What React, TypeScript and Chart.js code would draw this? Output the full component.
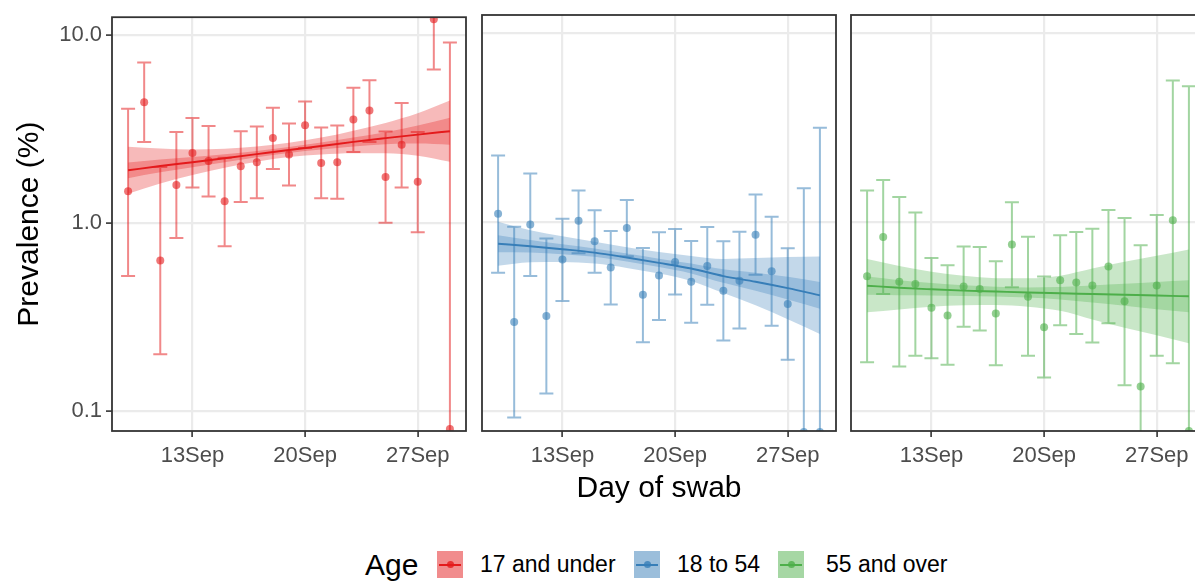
import React, { useEffect, useRef } from "react";
import { Chart, registerables } from "chart.js";
Chart.register(...registerables);

const FONT = "'Liberation Sans', Arial, sans-serif";

// ---- shared axes ----
const days = [9, 10, 11, 12, 13, 14, 15, 16, 17, 18, 19, 20, 21, 22, 23, 24, 25, 26, 27, 28, 29];
const bandDays = [9, 11, 13, 15, 17, 19, 21, 23, 25, 27, 29];
const xTickDays = [13, 20, 27];
const xTickLabels = ["13Sep", "20Sep", "27Sep"];
const yTickValues = [0.1, 1, 10];
const yTickLabels = ["0.1", "1.0", "10.0"];
const xMin = 8;
const xMax = 30;
const yMin = 0.078;
const yMax = 12.4;

// ---- 17 and under ----
const redPrev = [1.47, 4.38, 0.63, 1.59, 2.35, 2.13, 1.30, 2.00, 2.10, 2.82, 2.31, 3.30, 2.08, 2.10, 3.54, 3.95, 1.75, 2.60, 1.65, 12.1, 0.08];
const redLo = [0.52, 2.69, 0.20, 0.83, 1.54, 1.38, 0.75, 1.29, 1.35, 1.93, 1.58, 2.50, 1.35, 1.34, 2.38, 2.69, 1.00, 1.54, 0.89, 6.53, 0.01];
const redHi = [4.04, 7.11, 1.98, 3.04, 3.61, 3.27, 2.22, 3.07, 3.25, 4.09, 3.37, 4.42, 3.21, 3.29, 5.22, 5.73, 3.06, 4.33, 3.04, 22.0, 9.1];
const redFit = [1.901, 2.004, 2.099, 2.203, 2.317, 2.438, 2.559, 2.692, 2.818, 2.944, 3.069];
const redOuterHi = [2.535, 2.483, 2.455, 2.472, 2.541, 2.661, 2.838, 3.090, 3.396, 3.819, 4.467];
const redOuterLo = [1.426, 1.618, 1.795, 1.963, 2.113, 2.234, 2.307, 2.344, 2.339, 2.270, 2.109];
const redInnerHi = [2.094, 2.168, 2.234, 2.312, 2.410, 2.529, 2.673, 2.844, 3.034, 3.289, 3.622];
const redInnerLo = [1.726, 1.854, 1.972, 2.099, 2.228, 2.350, 2.449, 2.547, 2.618, 2.636, 2.600];

// ---- 18 to 54 ----
const bluePrev = [1.10, 0.294, 0.965, 0.317, 0.63, 1.01, 0.787, 0.571, 0.926, 0.41, 0.518, 0.612, 0.481, 0.583, 0.431, 0.487, 0.853, 0.546, 0.367, 0.077, 0.077];
const blueLo = [0.537, 0.092, 0.516, 0.123, 0.38, 0.68, 0.537, 0.364, 0.655, 0.23, 0.302, 0.411, 0.292, 0.363, 0.235, 0.272, 0.524, 0.281, 0.186, 0.005, 0.005];
const blueHi = [2.24, 0.94, 1.80, 0.813, 1.037, 1.46, 1.15, 0.893, 1.30, 0.726, 0.878, 0.915, 0.79, 0.937, 0.787, 0.885, 1.39, 1.06, 0.722, 1.50, 3.14];
const blueFit = [0.7638, 0.7413, 0.7145, 0.6855, 0.6457, 0.6053, 0.5649, 0.5152, 0.4808, 0.4446, 0.4074];
const blueOuterHi = [1.0, 0.9016, 0.8356, 0.7834, 0.7328, 0.6902, 0.6577, 0.6339, 0.6412, 0.6501, 0.6531];
const blueOuterLo = [0.5834, 0.6095, 0.6109, 0.5998, 0.5689, 0.5309, 0.4853, 0.4188, 0.3606, 0.3041, 0.2541];
const blueInnerHi = [0.8472, 0.7998, 0.7586, 0.7211, 0.6776, 0.6368, 0.5998, 0.5598, 0.537, 0.5105, 0.4797];
const blueInnerLo = [0.6887, 0.6871, 0.673, 0.6516, 0.6152, 0.5754, 0.5321, 0.4742, 0.4305, 0.3873, 0.3459];

// ---- 55 and over ----
const greenPrev = [0.514, 0.83, 0.48, 0.468, 0.35, 0.319, 0.453, 0.44, 0.326, 0.756, 0.401, 0.276, 0.489, 0.476, 0.459, 0.578, 0.379, 0.134, 0.459, 1.016, 0.078];
const greenLo = [0.18, 0.414, 0.171, 0.195, 0.189, 0.175, 0.278, 0.265, 0.174, 0.449, 0.195, 0.1495, 0.283, 0.2545, 0.229, 0.29, 0.136, 0.03, 0.195, 0.178, 0.01];
const greenHi = [1.46, 1.66, 1.35, 1.116, 0.642, 0.587, 0.738, 0.735, 0.617, 1.265, 0.833, 0.512, 0.846, 0.882, 0.918, 1.153, 1.046, 0.749, 1.085, 5.59, 5.2];
const greenFit = [0.4581, 0.4467, 0.4385, 0.4315, 0.4266, 0.4217, 0.4178, 0.414, 0.4102, 0.4064, 0.4027];
const greenOuterHi = [0.6339, 0.5821, 0.5433, 0.5164, 0.5023, 0.5012, 0.5176, 0.5649, 0.6138, 0.6592, 0.7129];
const greenOuterLo = [0.3311, 0.3428, 0.354, 0.3606, 0.3622, 0.3548, 0.3373, 0.3034, 0.2742, 0.2506, 0.2275];
const greenInnerHi = [0.5117, 0.4898, 0.4732, 0.4603, 0.4529, 0.4487, 0.4508, 0.4592, 0.4688, 0.4797, 0.4898];
const greenInnerLo = [0.4102, 0.4074, 0.4064, 0.4046, 0.4018, 0.3963, 0.3873, 0.3733, 0.3589, 0.3443, 0.3311];

const groups = ["17 and under", "18 to 54", "55 and over"];
const groupRGB = ["228,26,28", "55,126,184", "77,175,74"];

type PanelData = {
  rgb: string;
  prev: number[];
  lo: number[];
  hi: number[];
  fit: number[];
  outerHi: number[];
  outerLo: number[];
  innerHi: number[];
  innerLo: number[];
};

const panels: PanelData[] = [
  { rgb: groupRGB[0], prev: redPrev, lo: redLo, hi: redHi, fit: redFit, outerHi: redOuterHi, outerLo: redOuterLo, innerHi: redInnerHi, innerLo: redInnerLo },
  { rgb: groupRGB[1], prev: bluePrev, lo: blueLo, hi: blueHi, fit: blueFit, outerHi: blueOuterHi, outerLo: blueOuterLo, innerHi: blueInnerHi, innerLo: blueInnerLo },
  { rgb: groupRGB[2], prev: greenPrev, lo: greenLo, hi: greenHi, fit: greenFit, outerHi: greenOuterHi, outerLo: greenOuterLo, innerHi: greenInnerHi, innerLo: greenInnerLo },
];

const CANVAS_H = 510;
const TITLE_SIZE = 30;

function PanelChart({ left, width, yAxisW, data, first, middle }: { left: number; width: number; yAxisW: number; data: PanelData; first: boolean; middle: boolean }) {
  const ref = useRef<HTMLCanvasElement | null>(null);
  useEffect(() => {
    if (!ref.current) return;
    const c = data.rgb;
    const band = (arr: number[]) => bandDays.map((d, i) => ({ x: d, y: arr[i] }));
    const errorBars = {
      id: "errorBars",
      beforeDatasetDraw(chart: any, args: any) {
        if (args.index !== 4) return;
        const { ctx, chartArea } = chart;
        const xs = chart.scales.x;
        const ys = chart.scales.y;
        ctx.save();
        ctx.beginPath();
        ctx.rect(chartArea.left, chartArea.top, chartArea.right - chartArea.left, chartArea.bottom - chartArea.top);
        ctx.clip();
        ctx.strokeStyle = `rgba(${c},0.52)`;
        ctx.lineWidth = 2;
        const cap = 7;
        days.forEach((d, i) => {
          const px = xs.getPixelForValue(d);
          const y1 = ys.getPixelForValue(data.lo[i]);
          const y2 = ys.getPixelForValue(data.hi[i]);
          ctx.beginPath();
          ctx.moveTo(px, y1);
          ctx.lineTo(px, y2);
          ctx.moveTo(px - cap, y1);
          ctx.lineTo(px + cap, y1);
          ctx.moveTo(px - cap, y2);
          ctx.lineTo(px + cap, y2);
          ctx.stroke();
        });
        ctx.restore();
      },
    };
    const border = {
      id: "panelBorder",
      afterDraw(chart: any) {
        const { ctx, chartArea } = chart;
        ctx.save();
        ctx.strokeStyle = "#333333";
        ctx.lineWidth = 1.8;
        ctx.strokeRect(chartArea.left, chartArea.top, chartArea.right - chartArea.left, chartArea.bottom - chartArea.top);
        ctx.restore();
      },
    };
    const chart = new Chart(ref.current, {
      type: "line",
      data: {
        datasets: [
          { data: band(data.outerLo), borderWidth: 0, pointRadius: 0, fill: false, cubicInterpolationMode: "monotone", clip: 0, order: 6 } as any,
          { data: band(data.outerHi), borderWidth: 0, pointRadius: 0, fill: "-1", backgroundColor: `rgba(${c},0.3)`, cubicInterpolationMode: "monotone", clip: 0, order: 5 },
          { data: band(data.innerLo), borderWidth: 0, pointRadius: 0, fill: false, cubicInterpolationMode: "monotone", clip: 0, order: 4 },
          { data: band(data.innerHi), borderWidth: 0, pointRadius: 0, fill: "-1", backgroundColor: `rgba(${c},0.3)`, cubicInterpolationMode: "monotone", clip: 0, order: 3 },
          { data: days.map((d, i) => ({ x: d, y: data.prev[i] })), showLine: false, pointRadius: 4, pointBorderWidth: 0, pointBackgroundColor: `rgba(${c},0.6)`, clip: 0, order: 2 },
          { data: band(data.fit), borderColor: `rgb(${c})`, borderWidth: 1.9, pointRadius: 0, fill: false, cubicInterpolationMode: "monotone", clip: 0, order: 1 },
        ],
      },
      options: {
        animation: false,
        responsive: false,
        events: [],
        layout: { padding: { top: 15, right: 4, left: 0, bottom: 0 } },
        plugins: { legend: { display: false }, tooltip: { enabled: false } },
        scales: {
          x: {
            type: "linear",
            min: xMin,
            max: xMax,
            afterBuildTicks: (s: any) => {
              s.ticks = xTickDays.map((v) => ({ value: v }));
            },
            afterFit: (s: any) => {
              s.height = CANVAS_H - 15 - 416;
            },
            ticks: {
              autoSkip: false,
              maxRotation: 0,
              padding: 6,
              color: "#4D4D4D",
              font: { family: FONT, size: 22 },
              callback: (v: any) => xTickLabels[xTickDays.indexOf(Number(v))],
            },
            grid: { color: "#EBEBEB", lineWidth: 2.2, tickColor: "#333333", tickLength: 6, tickWidth: 1.6 },
            border: { display: false },
            title: {
              display: middle,
              text: "Day of swab",
              color: "#000000",
              font: { family: FONT, size: TITLE_SIZE },
              padding: { top: 0, bottom: CANVAS_H - 15 - 416 - 58 - TITLE_SIZE * 0.6 },
            },
          },
          y: {
            type: "logarithmic",
            min: yMin,
            max: yMax,
            afterBuildTicks: (s: any) => {
              s.ticks = yTickValues.map((v) => ({ value: v }));
            },
            afterFit: (s: any) => {
              s.width = yAxisW;
            },
            ticks: {
              display: first,
              padding: 4,
              color: "#4D4D4D",
              font: { family: FONT, size: 22 },
              callback: (v: any) => yTickLabels[yTickValues.indexOf(Number(v))],
            },
            grid: { color: "#EBEBEB", lineWidth: 2.2, drawTicks: first, tickColor: "#333333", tickLength: 6, tickWidth: 1.6 },
            border: { display: false },
            title: {
              display: first,
              text: "Prevalence (%)",
              color: "#000000",
              font: { family: FONT, size: TITLE_SIZE },
              padding: { top: 12, bottom: 0 },
            },
          },
        },
      },
      plugins: [errorBars, border],
    } as any);
    return () => chart.destroy();
  }, []);
  return (
    <canvas
      ref={ref}
      width={width}
      height={CANVAS_H}
      style={{ position: "absolute", left, top: 0, width, height: CANVAS_H }}
    />
  );
}

function LegendKey({ left, rgb }: { left: number; rgb: string }) {
  return (
    <div style={{ position: "absolute", left, top: 551, width: 26, height: 27, background: `rgba(${rgb},0.5)` }}>
      <div style={{ position: "absolute", left: 2, right: 2, top: 12.5, height: 2, background: `rgb(${rgb})` }} />
      <div style={{ position: "absolute", left: 9.5, top: 10, width: 7, height: 7, borderRadius: 4, background: `rgba(${rgb},0.8)` }} />
    </div>
  );
}

export default function App() {
  const textStyle = (left: number, size: number): React.CSSProperties => ({
    position: "absolute",
    left,
    top: 565 - size * 0.6,
    fontFamily: FONT,
    fontSize: size,
    lineHeight: `${size * 1.2}px`,
    color: "#000",
    whiteSpace: "nowrap",
  });
  return (
    <div style={{ position: "absolute", left: 0, top: 0, width: 1195, height: 581, overflow: "hidden", background: "#fff" }}>
      <PanelChart left={0} width={470} yAxisW={112} data={panels[0]} first={true} middle={false} />
      <PanelChart left={470} width={370} yAxisW={12} data={panels[1]} first={false} middle={true} />
      <PanelChart left={839} width={370} yAxisW={12} data={panels[2]} first={false} middle={false} />
      <div style={textStyle(365, 30)}>Age</div>
      <LegendKey left={437} rgb={groupRGB[0]} />
      <div style={textStyle(480, 23)}>{groups[0]}</div>
      <LegendKey left={634} rgb={groupRGB[1]} />
      <div style={textStyle(677, 23)}>{groups[1]}</div>
      <LegendKey left={778} rgb={groupRGB[2]} />
      <div style={textStyle(826, 23)}>{groups[2]}</div>
    </div>
  );
}
